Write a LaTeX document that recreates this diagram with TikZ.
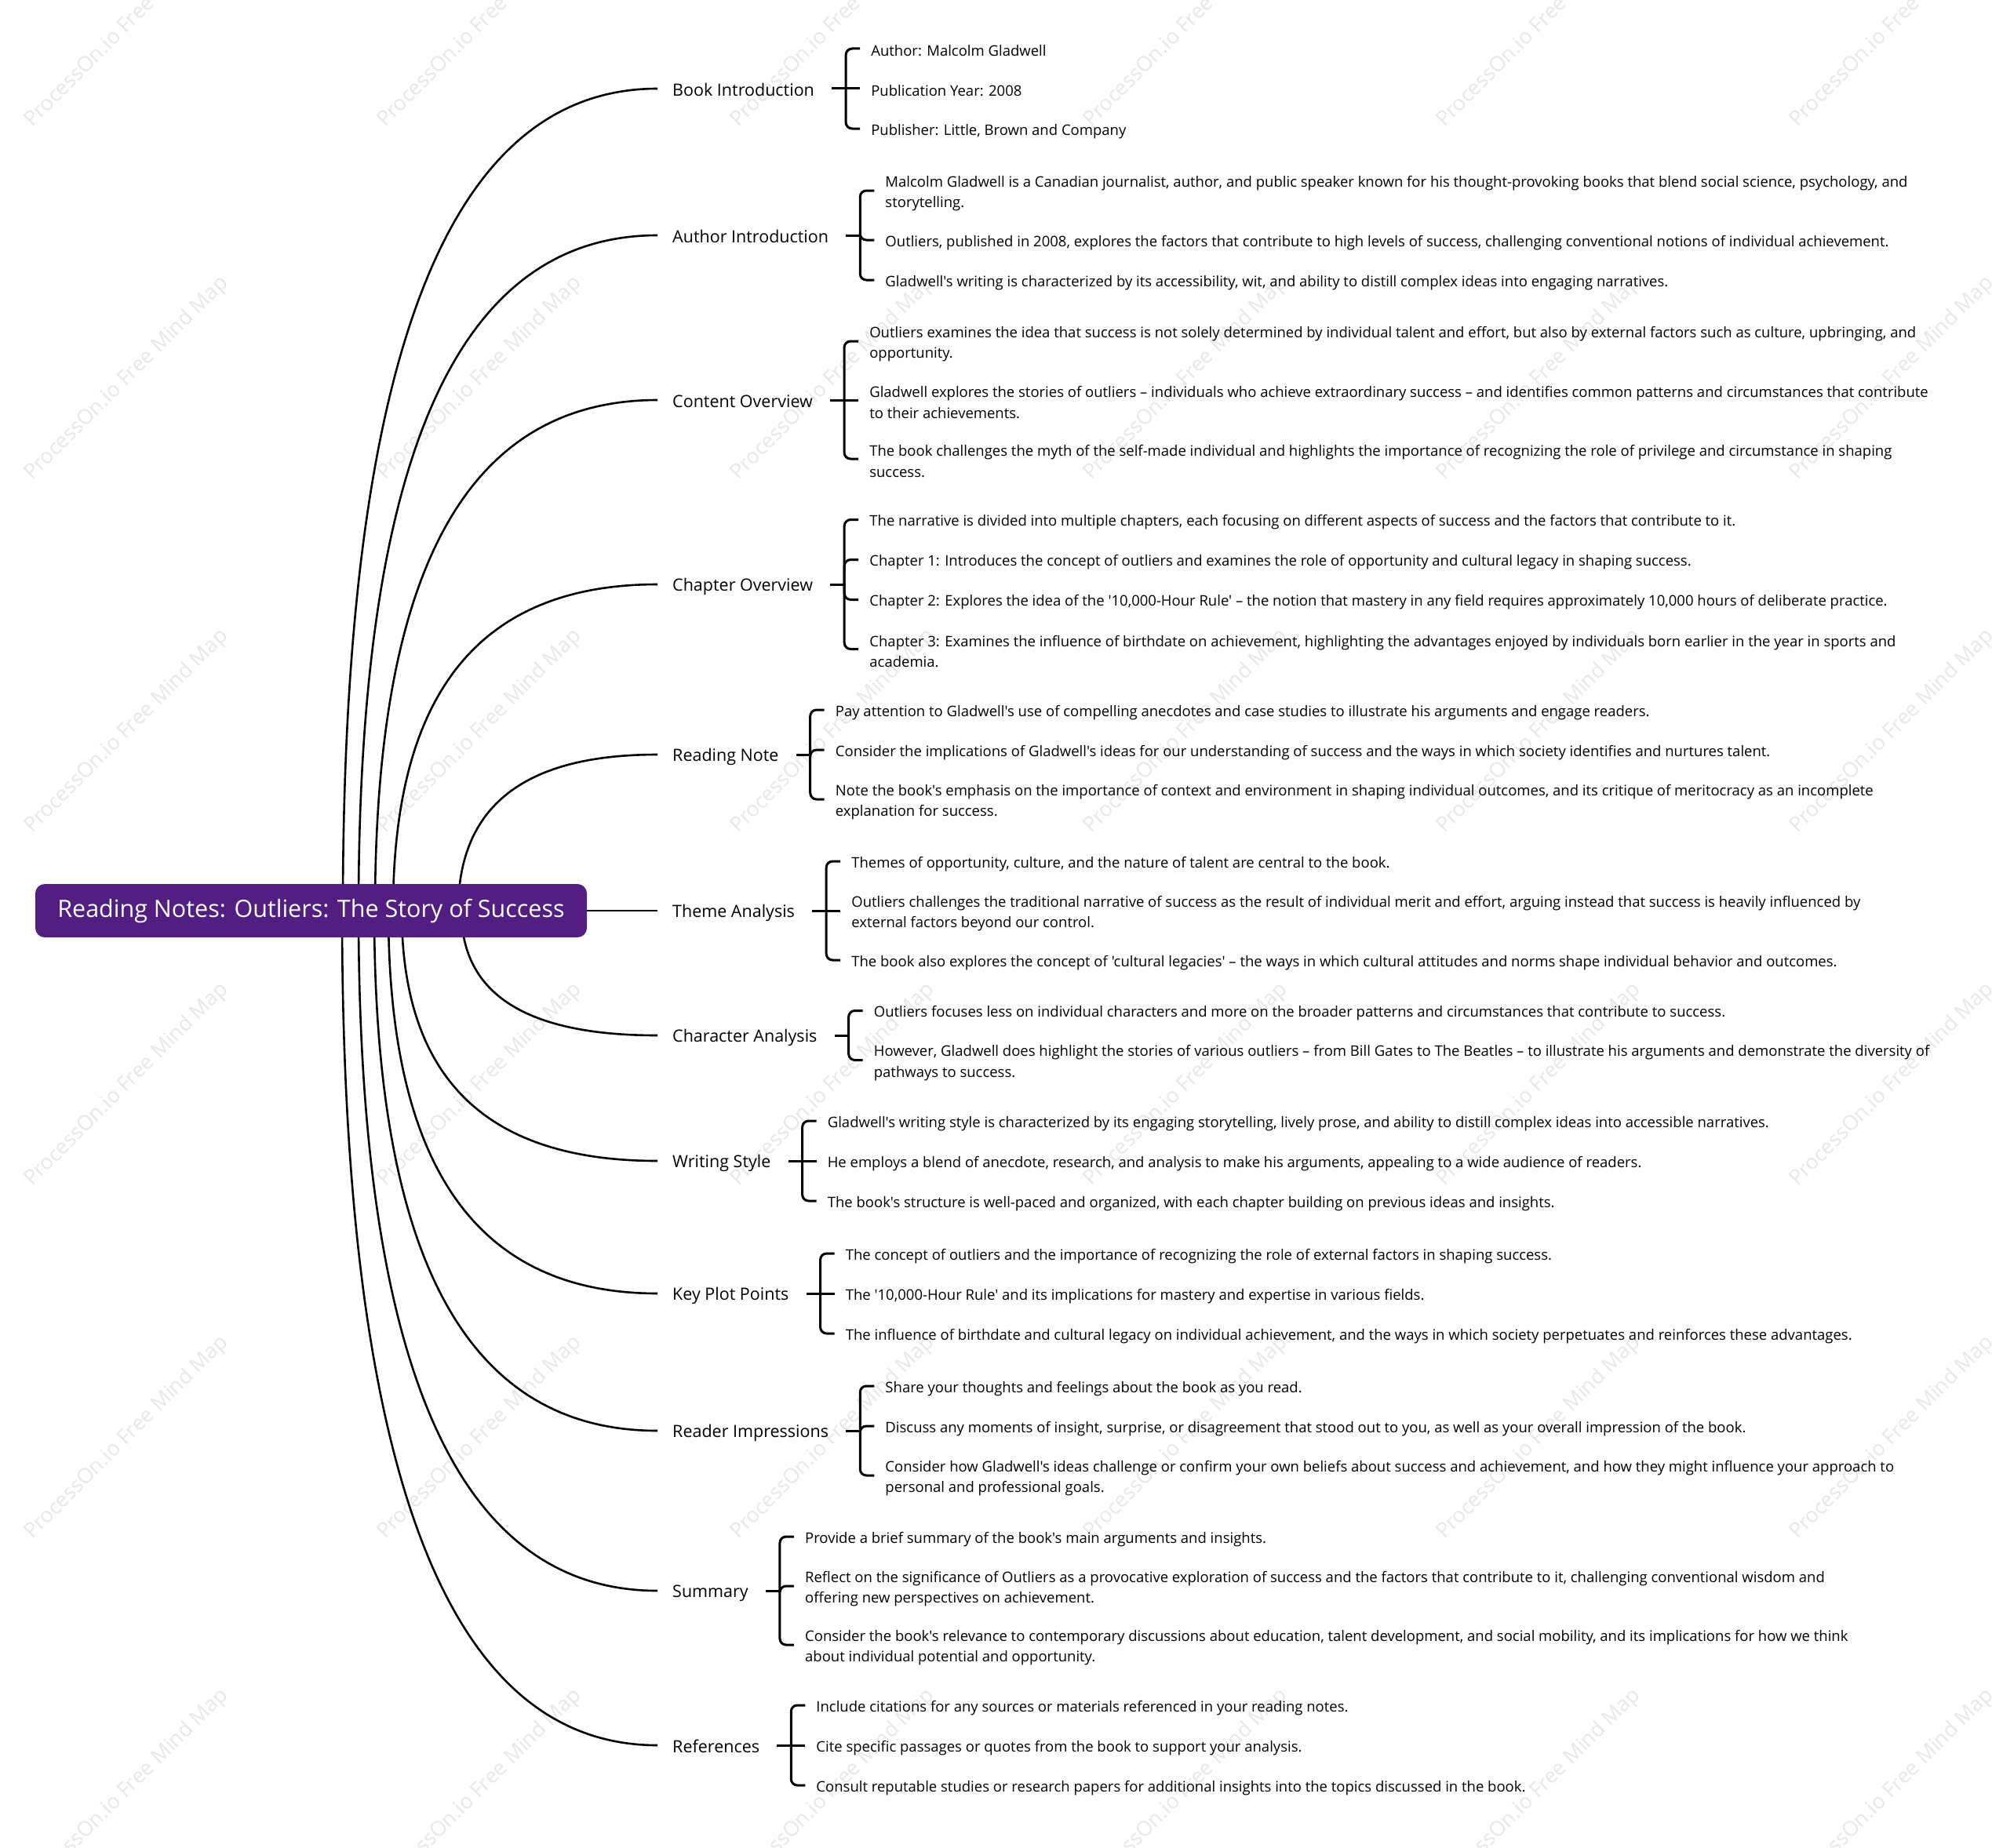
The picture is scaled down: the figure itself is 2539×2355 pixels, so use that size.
\documentclass[tikz,border=0pt]{standalone}
\usepackage{fontspec}
\newfontfamily\osf{Open Sans}
\usetikzlibrary{calc}
\definecolor{rootpurple}{RGB}{82,30,130}
\pgfdeclarelayer{wmlayer}
\pgfdeclarelayer{bglayer}
\pgfsetlayers{wmlayer,bglayer,main}
\newcommand\ls{\rule[-1pt]{0pt}{22pt}}
\newcommand\bs{\rule[-3pt]{0pt}{25pt}}
\newcommand\rs{\rule[-7.2pt]{0pt}{32pt}}
\newcommand\rootcurve[2]{%
  \coordinate (k#2) at (#1 |- #2.west);
  \draw[conn] (#1) .. controls ($(#1)!0.67!(k#2)$) and ($(k#2)!0.33!(#2.west)$) .. (#2.west);}
\tikzset{
  conn/.style={line width=2.6pt, black},
  brk/.style={line width=3pt, black, rounded corners=8pt},
  branch/.style={font=\osf\fontsize{21.5}{26}\selectfont, inner xsep=19pt, inner ysep=0pt, anchor=west},
  leaf/.style={font=\osf\fontsize{18.5}{24}\selectfont, inner xsep=14pt, inner ysep=0pt, anchor=west, align=left},
  rootbox/.style={fill=rootpurple, rounded corners=12pt, text=white, font=\osf\fontsize{30.5}{36}\selectfont,
    minimum width=703pt, minimum height=68pt, inner sep=0pt},
  wm/.style={font=\osf\fontsize{26.5}{26.5}\selectfont, text=black!9, rotate=45, anchor=base west, inner sep=0pt}
}
\begin{document}
\begin{tikzpicture}[x=1pt,y=-1pt]
\useasboundingbox (0,0) rectangle (2539,2355);
\begin{pgfonlayer}{wmlayer}
\fill[white] (0,0) rectangle (2539,2355);
\begin{scope}
\clip (0,0) rectangle (2539,2355);
\foreach \i in {0,...,5}{\foreach \j in {0,...,5}{
  \node[wm] (wm\i\j) at ({41+450*\i},{163+450*\j}) {ProcessOn.io Free Mind Map};}}
\end{scope}
\end{pgfonlayer}

% root
\node[rootbox] (root) at (396.5,1161) {\rs Reading Notes: Outliers: The Story of Success};

% branch labels
\node[branch] (b1) at (838,113) {\bs Book Introduction};
\node[branch] (b2) at (838,300) {\bs Author Introduction};
\node[branch] (b3) at (838,510) {\bs Content Overview};
\node[branch] (b4) at (838,745) {\bs Chapter Overview};
\node[branch] (b5) at (838,962) {\bs Reading Note};
\node[branch] (b6) at (838,1161) {\bs Theme Analysis};
\node[branch] (b7) at (838,1320) {\bs Character Analysis};
\node[branch] (b8) at (838,1480) {\bs Writing Style};
\node[branch] (b9) at (838,1649) {\bs Key Plot Points};
\node[branch] (b10) at (838,1824) {\bs Reader Impressions};
\node[branch] (b11) at (838,2028) {\bs Summary};
\node[branch] (b12) at (838,2225) {\bs References};

% bracket coordinates
\foreach \n in {1,...,12}{
  \coordinate (t\n) at ($(b\n.east)+(3,0)$);
  \coordinate (v\n) at ($(b\n.east)+(21,0)$);
}

% leaves
\node[leaf] (c11) at ($(v1)+(18,-51)$) {\ls Author: Malcolm Gladwell};
\node[leaf] (c12) at ($(v1)+(18,0)$) {\ls Publication Year: 2008};
\node[leaf] (c13) at ($(v1)+(18,51)$) {\ls Publisher: Little, Brown and Company};

\node[leaf] (c21) at ($(v2)+(18,-57)$) {\ls Malcolm Gladwell is a Canadian journalist, author, and public speaker known for his thought-provoking books that blend social science, psychology, and\\\ls storytelling.};
\node[leaf] (c22) at ($(v2)+(18,6)$) {\ls Outliers, published in 2008, explores the factors that contribute to high levels of success, challenging conventional notions of individual achievement.};
\node[leaf] (c23) at ($(v2)+(18,57)$) {\ls Gladwell's writing is characterized by its accessibility, wit, and ability to distill complex ideas into engaging narratives.};

\node[leaf] (c31) at ($(v3)+(18,-75)$) {\ls Outliers examines the idea that success is not solely determined by individual talent and effort, but also by external factors such as culture, upbringing, and\\\ls opportunity.};
\node[leaf] (c32) at ($(v3)+(18,0)$) {\ls Gladwell explores the stories of outliers – individuals who achieve extraordinary success – and identifies common patterns and circumstances that contribute\\\ls to their achievements.};
\node[leaf] (c33) at ($(v3)+(18,75)$) {\ls The book challenges the myth of the self-made individual and highlights the importance of recognizing the role of privilege and circumstance in shaping\\\ls success.};

\node[leaf] (c41) at ($(v4)+(18,-82.5)$) {\ls The narrative is divided into multiple chapters, each focusing on different aspects of success and the factors that contribute to it.};
\node[leaf] (c42) at ($(v4)+(18,-31.5)$) {\ls Chapter 1: Introduces the concept of outliers and examines the role of opportunity and cultural legacy in shaping success.};
\node[leaf] (c43) at ($(v4)+(18,19.5)$) {\ls Chapter 2: Explores the idea of the '10,000-Hour Rule' – the notion that mastery in any field requires approximately 10,000 hours of deliberate practice.};
\node[leaf] (c44) at ($(v4)+(18,82.5)$) {\ls Chapter 3: Examines the influence of birthdate on achievement, highlighting the advantages enjoyed by individuals born earlier in the year in sports and\\\ls academia.};

\node[leaf] (c51) at ($(v5)+(18,-57)$) {\ls Pay attention to Gladwell's use of compelling anecdotes and case studies to illustrate his arguments and engage readers.};
\node[leaf] (c52) at ($(v5)+(18,-6)$) {\ls Consider the implications of Gladwell's ideas for our understanding of success and the ways in which society identifies and nurtures talent.};
\node[leaf] (c53) at ($(v5)+(18,57)$) {\ls Note the book's emphasis on the importance of context and environment in shaping individual outcomes, and its critique of meritocracy as an incomplete\\\ls explanation for success.};

\node[leaf] (c61) at ($(v6)+(18,-63)$) {\ls Themes of opportunity, culture, and the nature of talent are central to the book.};
\node[leaf] (c62) at ($(v6)+(18,0)$) {\ls Outliers challenges the traditional narrative of success as the result of individual merit and effort, arguing instead that success is heavily influenced by\\\ls external factors beyond our control.};
\node[leaf] (c63) at ($(v6)+(18,63)$) {\ls The book also explores the concept of 'cultural legacies' – the ways in which cultural attitudes and norms shape individual behavior and outcomes.};

\node[leaf] (c71) at ($(v7)+(18,-31.5)$) {\ls Outliers focuses less on individual characters and more on the broader patterns and circumstances that contribute to success.};
\node[leaf] (c72) at ($(v7)+(18,31.5)$) {\ls However, Gladwell does highlight the stories of various outliers – from Bill Gates to The Beatles – to illustrate his arguments and demonstrate the diversity of\\\ls pathways to success.};

\node[leaf] (c81) at ($(v8)+(18,-51)$) {\ls Gladwell's writing style is characterized by its engaging storytelling, lively prose, and ability to distill complex ideas into accessible narratives.};
\node[leaf] (c82) at ($(v8)+(18,0)$) {\ls He employs a blend of anecdote, research, and analysis to make his arguments, appealing to a wide audience of readers.};
\node[leaf] (c83) at ($(v8)+(18,51)$) {\ls The book's structure is well-paced and organized, with each chapter building on previous ideas and insights.};

\node[leaf] (c91) at ($(v9)+(18,-51)$) {\ls The concept of outliers and the importance of recognizing the role of external factors in shaping success.};
\node[leaf] (c92) at ($(v9)+(18,0)$) {\ls The '10,000-Hour Rule' and its implications for mastery and expertise in various fields.};
\node[leaf] (c93) at ($(v9)+(18,51)$) {\ls The influence of birthdate and cultural legacy on individual achievement, and the ways in which society perpetuates and reinforces these advantages.};

\node[leaf] (c101) at ($(v10)+(18,-57)$) {\ls Share your thoughts and feelings about the book as you read.};
\node[leaf] (c102) at ($(v10)+(18,-6)$) {\ls Discuss any moments of insight, surprise, or disagreement that stood out to you, as well as your overall impression of the book.};
\node[leaf] (c103) at ($(v10)+(18,57)$) {\ls Consider how Gladwell's ideas challenge or confirm your own beliefs about success and achievement, and how they might influence your approach to\\\ls personal and professional goals.};

\node[leaf] (c111) at ($(v11)+(18,-69)$) {\ls Provide a brief summary of the book's main arguments and insights.};
\node[leaf] (c112) at ($(v11)+(18,-6)$) {\ls Reflect on the significance of Outliers as a provocative exploration of success and the factors that contribute to it, challenging conventional wisdom and\\\ls offering new perspectives on achievement.};
\node[leaf] (c113) at ($(v11)+(18,69)$) {\ls Consider the book's relevance to contemporary discussions about education, talent development, and social mobility, and its implications for how we think\\\ls about individual potential and opportunity.};

\node[leaf] (c121) at ($(v12)+(18,-51)$) {\ls Include citations for any sources or materials referenced in your reading notes.};
\node[leaf] (c122) at ($(v12)+(18,0)$) {\ls Cite specific passages or quotes from the book to support your analysis.};
\node[leaf] (c123) at ($(v12)+(18,51)$) {\ls Consult reputable studies or research papers for additional insights into the topics discussed in the book.};

% curves from root
\coordinate (s1) at ($(root.center)+(40.5,0)$);
\coordinate (s2) at ($(root.center)+(60.5,0)$);
\coordinate (s3) at ($(root.center)+(81.5,0)$);
\coordinate (s4) at ($(root.center)+(104.5,0)$);
\coordinate (s5) at ($(root.center)+(187.5,0)$);
\coordinate (s7) at ($(root.center)+(191.5,0)$);
\coordinate (s8) at ($(root.center)+(115.5,0)$);
\coordinate (s9) at ($(root.center)+(98.5,0)$);
\coordinate (s10) at ($(root.center)+(80.5,0)$);
\coordinate (s11) at ($(root.center)+(60.5,0)$);
\coordinate (s12) at ($(root.center)+(39.5,0)$);
\begin{pgfonlayer}{bglayer}
\rootcurve{s1}{b1}
\rootcurve{s2}{b2}
\rootcurve{s3}{b3}
\rootcurve{s4}{b4}
\rootcurve{s5}{b5}
\rootcurve{s7}{b7}
\rootcurve{s8}{b8}
\rootcurve{s9}{b9}
\rootcurve{s10}{b10}
\rootcurve{s11}{b11}
\rootcurve{s12}{b12}
\end{pgfonlayer}
\draw[conn] (root.east) -- (b6.west);

% brackets
\foreach \n in {1,...,12}{\draw[brk] (t\n) -- (v\n);}
\draw[brk] (v1) |- (c11.west); \draw[brk] (v1) -- (c12.west); \draw[brk] (v1) |- (c13.west);
\draw[brk] (v2) |- (c21.west); \draw[brk] (v2) |- (c22.west); \draw[brk] (v2) |- (c23.west);
\draw[brk] (v3) |- (c31.west); \draw[brk] (v3) -- (c32.west); \draw[brk] (v3) |- (c33.west);
\draw[brk] (v4) |- (c41.west); \draw[brk] (v4) |- (c42.west); \draw[brk] (v4) |- (c43.west); \draw[brk] (v4) |- (c44.west);
\draw[brk] (v5) |- (c51.west); \draw[brk] (v5) |- (c52.west); \draw[brk] (v5) |- (c53.west);
\draw[brk] (v6) |- (c61.west); \draw[brk] (v6) -- (c62.west); \draw[brk] (v6) |- (c63.west);
\draw[brk] (v7) |- (c71.west); \draw[brk] (v7) |- (c72.west);
\draw[brk] (v8) |- (c81.west); \draw[brk] (v8) -- (c82.west); \draw[brk] (v8) |- (c83.west);
\draw[brk] (v9) |- (c91.west); \draw[brk] (v9) -- (c92.west); \draw[brk] (v9) |- (c93.west);
\draw[brk] (v10) |- (c101.west); \draw[brk] (v10) |- (c102.west); \draw[brk] (v10) |- (c103.west);
\draw[brk] (v11) |- (c111.west); \draw[brk] (v11) |- (c112.west); \draw[brk] (v11) |- (c113.west);
\draw[brk] (v12) |- (c121.west); \draw[brk] (v12) -- (c122.west); \draw[brk] (v12) |- (c123.west);
\end{tikzpicture}
\end{document}
